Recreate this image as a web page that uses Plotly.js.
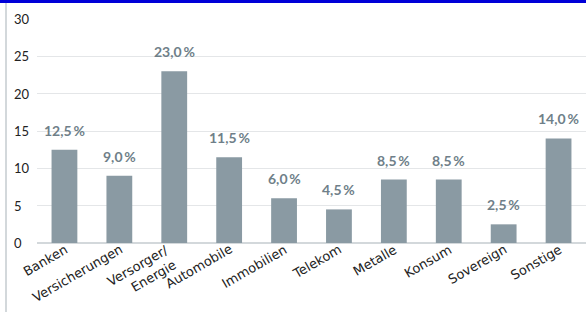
<!DOCTYPE html>
<html><head><meta charset="utf-8">
<script src="https://cdn.plot.ly/plotly-3.0.1.min.js"></script>
<style>html,body{margin:0;padding:0;background:#fff}#c{width:586px;height:312px}</style>
</head><body><div id="c"></div>
<script>
const categories = ["Banken","Versicherungen","Versorger/<br>Energie","Automobile","Immobilien","Telekom","Metalle","Konsum","Sovereign","Sonstige"];
const values = [12.5, 9.0, 23.0, 11.5, 6.0, 4.5, 8.5, 8.5, 2.5, 14.0];
const yTicks = [0, 5, 10, 15, 20, 25, 30];

const labels = values.map(v => v.toFixed(1).replace('.', ',') + '\u2009%');

const trace = {
  type: 'bar', x: categories, y: values,
  marker: {color: '#8a9aa3'},
  hoverinfo: 'none'
};

const yAnn = yTicks.map(t => ({
  xref: 'paper', yref: 'y', x: -0.046, y: t, xanchor: 'left', yanchor: 'middle',
  text: String(t), showarrow: false,
  font: {family: 'Lato, sans-serif', size: 13, color: '#222'}
}));

const valAnn = values.map((v, i) => ({
  xref: 'x', yref: 'y', x: categories[i], y: v, xanchor: 'center', yanchor: 'bottom',
  yshift: 9, text: labels[i], showarrow: false,
  font: {family: 'Lato, sans-serif', size: 14, color: '#6f7f89', weight: 'bold'}
}));

const xAnn = categories.map(c => ({
  xref: 'x', yref: 'y', x: c, y: 0, xanchor: 'right', yanchor: 'top',
  xshift: 8, yshift: 4, textangle: -30, align: 'right',
  text: c, showarrow: false,
  font: {family: 'DejaVu Sans, sans-serif', size: 13, color: '#222'}
}));

const layout = {
  width: 586, height: 312,
  margin: {l: 37, r: 0, t: 19, b: 69},
  paper_bgcolor: '#fff', plot_bgcolor: '#fff',
  bargap: 0.53,
  showlegend: false,
  xaxis: {
    range: [-0.5, categories.length - 0.5], autorange: false,
    showticklabels: false,
    showgrid: false, ticks: '', showline: false, automargin: false
  },
  yaxis: {
    range: [0, 30], autorange: false, tickvals: yTicks, showticklabels: false,
    showgrid: true, gridcolor: '#e4e6e8', gridwidth: 1,
    zeroline: true, zerolinecolor: '#d3d8db', zerolinewidth: 2,
    fixedrange: true
  },
  annotations: yAnn.concat(valAnn, xAnn),
  shapes: [
    {type: 'rect', xref: 'paper', yref: 'paper', x0: -0.08, x1: 1.01, y0: (243-3)/224, y1: 1.2,
     fillcolor: '#0000d8', line: {width: 0}},
    {type: 'line', xref: 'paper', yref: 'paper', x0: (6-37)/549, x1: (6-37)/549, y0: -0.4, y1: (243-3)/224,
     line: {color: '#c5cbcf', width: 1.5}}
  ]
};
Plotly.newPlot('c', [trace], layout, {displayModeBar: false, staticPlot: true});
</script></body></html>
